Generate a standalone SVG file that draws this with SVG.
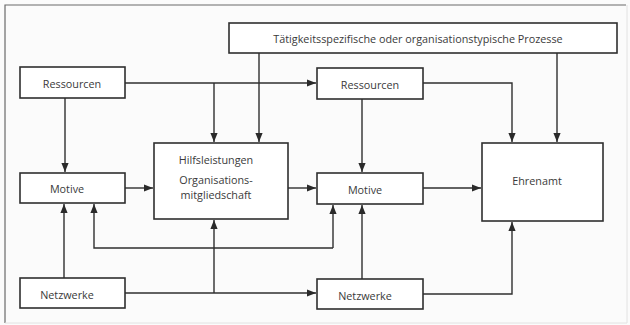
<svg xmlns="http://www.w3.org/2000/svg" width="630" height="325" viewBox="0 0 630 325">
<defs>
<marker id="ah" viewBox="0 0 10 10" refX="10" refY="5" markerWidth="9" markerHeight="9" markerUnits="userSpaceOnUse" orient="auto">
<path d="M0,1 L10,5 L0,9 Z" fill="#2a2a2a"/>
</marker>
<style>
.box{fill:#fff;stroke:#2f2f2f;stroke-width:1.6}
.t{font-family:"Open Sans","Liberation Sans",sans-serif;font-size:10.8px;fill:#3a3a3a;text-anchor:middle;dominant-baseline:central}
.c{fill:none;stroke:#2f2f2f;stroke-width:1.4}
.a{marker-end:url(#ah)}
</style>
</defs>
<rect x="0" y="0" width="630" height="325" fill="#fbfbfb"/>
<path d="M5,323 L5,5 L626,5" fill="none" stroke="#6a6a6a" stroke-width="1.2"/>
<path d="M5,323 L627,323 L627,5" fill="none" stroke="#e2e2e2" stroke-width="1"/>

<g id="connectors">
<path class="c a" d="M125,83 L316,83"/>
<path class="c a" d="M214,83 L214,142"/>
<path class="c a" d="M259,53 L259,142"/>
<path class="c a" d="M557,53 L557,142"/>
<path class="c a" d="M423,83 L512,83 L512,142"/>
<path class="c a" d="M65,98 L65,172"/>
<path class="c a" d="M362,99 L362,172"/>
<path class="c a" d="M125,188 L153,188"/>
<path class="c a" d="M288,188 L316,188"/>
<path class="c a" d="M423,188 L481,188"/>
<path class="c a" d="M333,248 L333,205"/>
<path class="c a" d="M333,248 L94,248 L94,204"/>
<path class="c a" d="M64,278 L64,204"/>
<path class="c a" d="M125,293 L316,293"/>
<path class="c a" d="M214,293 L214,220"/>
<path class="c a" d="M362,279 L362,205"/>
<path class="c a" d="M423,294 L512,294 L512,222"/>
</g>

<g id="prozesse"><rect class="box" x="229" y="23" width="388" height="30"/><text class="t" x="418" y="38">Tätigkeitsspezifische oder organisationstypische Prozesse</text></g>
<g id="ressourcen1"><rect class="box" x="20" y="67" width="105" height="31"/><text class="t" x="72" y="83">Ressourcen</text></g>
<g id="ressourcen2"><rect class="box" x="317" y="68" width="106" height="31"/><text class="t" x="370" y="84">Ressourcen</text></g>
<g id="hilfsleistungen"><rect class="box" x="154" y="143" width="134" height="76"/>
<text class="t" x="216" y="159">Hilfsleistungen</text>
<text class="t" x="216" y="179">Organisations-</text>
<text class="t" x="216" y="194">mitgliedschaft</text></g>
<g id="motive1"><rect class="box" x="20" y="173" width="105" height="30"/><text class="t" x="67" y="188">Motive</text></g>
<g id="motive2"><rect class="box" x="317" y="173" width="106" height="31"/><text class="t" x="365" y="189">Motive</text></g>
<g id="ehrenamt"><rect class="box" x="482" y="143" width="121" height="78"/><text class="t" x="537" y="180">Ehrenamt</text></g>
<g id="netzwerke1"><rect class="box" x="20" y="278" width="105" height="30"/><text class="t" x="67" y="294">Netzwerke</text></g>
<g id="netzwerke2"><rect class="box" x="317" y="279" width="106" height="30"/><text class="t" x="365" y="295">Netzwerke</text></g>
</svg>
